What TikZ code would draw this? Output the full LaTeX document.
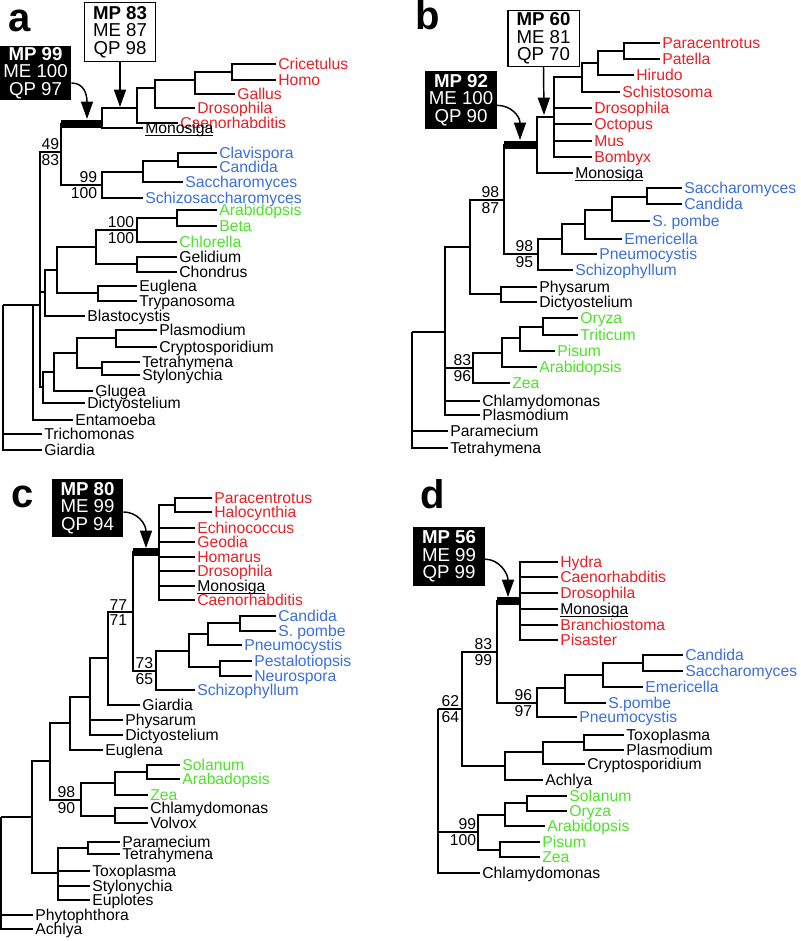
\documentclass[tikz,border=0pt]{standalone}
\usepackage{fontspec}
\setmainfont{Liberation Sans}
\usetikzlibrary{arrows.meta}
\definecolor{tred}{RGB}{232,32,38}
\definecolor{tblue}{RGB}{60,110,220}
\definecolor{tgreen}{RGB}{78,226,42}
\newcommand{\leaffont}{\fontsize{11.8}{12}\selectfont}
\newcommand{\boxfont}{\fontsize{14}{13.2}\selectfont}
\newcommand{\ulname}[1]{\setbox0\hbox{#1}\rlap{\rule[-1.6pt]{\wd0}{0.75pt}}\box0}
\tikzset{
  br/.style    = {line width=1.1pt},
  bar/.style   = {line width=5.6pt},
  leaf/.style  = {anchor=west, inner xsep=1.5pt, inner ysep=0pt,
                  text height=8.5pt, text depth=0pt, font=\leaffont},
  num/.style   = {inner sep=0.5pt, font=\leaffont},
  wbox/.style  = {rectangle, draw=black, line width=1pt, fill=white,
                  align=center, inner sep=1pt, font=\boxfont,
                  minimum width=53.5pt, minimum height=44pt},
  bbox/.style  = {rectangle, fill=black, text=white, align=center,
                  inner sep=1pt, font=\boxfont,
                  minimum width=53.5pt, minimum height=44pt},
  arr/.style   = {-{Triangle[length=13pt,width=9pt]}, line width=1.1pt},
  plabel/.style= {anchor=base west, inner sep=0pt,
                  font=\fontsize{30}{30}\selectfont\bfseries},
}

\begin{document}
\begin{tikzpicture}[x=0.75pt, y=-0.75pt]
\useasboundingbox (0,0) rectangle (800,941);

%% panel letters
\node[plabel] (la) at (8,32)   {a};
\node[plabel] (lb) at (415,30) {b};
\node[plabel] (lc) at (11,507) {c};
\node[plabel] (ld) at (420,508) {d};

%% Panel a
\foreach \nm/\x/\y in {aR/3/305, a33/33/305, a40/40/305, a61/61/152,
    a102/102/124, a137/137/108, a155/155/88, a195/195/80, a232/232/72,
    a102b/102/185, a143/143/172, a178/178/161, a45/45/292, a57/57/270,
    a96/96/247, a137g/137/230, a177/177/218, a137r/137/264, a98/98/293,
    a43/43/387, a54/54/372, a77/77/353, a116/116/338, a102t/102/368}
  \coordinate (\nm) at (\x,\y);
\foreach \pa/\ch in {aR/a33, a33/a40, a40/a61, a40/a45, a40/a43,
    a61/a102, a61/a102b, a102/a137, a137/a155, a155/a195, a195/a232,
    a102b/a143, a143/a178, a45/a57, a57/a96, a57/a98, a96/a137g,
    a96/a137r, a137g/a177, a43/a54, a54/a77, a77/a116, a77/a102t}
  \draw[br] (\pa) |- (\ch);
\foreach \pa/\nm/\x/\y/\col/\txt in {
    a232/aCri/276/64/tred/Cricetulus, a232/aHom/276/80/tred/Homo,
    a195/aGal/235/94/tred/Gallus, a155/aDro/195/108/tred/Drosophila,
    a137/aCae/178/123/tred/Caenorhabditis,
    a102/aMon/143/128/black/\ulname{Monosiga},
    a178/aCla/217/153/tblue/Clavispora, a178/aCan/217/167/tblue/Candida,
    a143/aSac/183/182/tblue/Saccharomyces,
    a102b/aSch/143/198/tblue/Schizosaccharomyces,
    a177/aAra/217/210/tgreen/Arabidopsis, a177/aBet/217/226/tgreen/Beta,
    a137g/aChl/177/242/tgreen/Chlorella,
    a137r/aGel/177/257/black/Gelidium, a137r/aCho/177/272/black/Chondrus,
    a98/aEug/137/286/black/Euglena, a98/aTry/137/301/black/Trypanosoma,
    a45/aBla/85/316/black/Blastocystis,
    a116/aPla/157/330/black/Plasmodium,
    a116/aCry/157/347/black/Cryptosporidium,
    a102t/aTet/140/362/black/Tetrahymena,
    a102t/aSty/140/375/black/Stylonychia,
    a54/aGlu/93/391/black/Glugea, a43/aDic/85/403/black/Dictyostelium,
    a33/aEnt/73/420/black/Entamoeba,
    aR/aTri/42/434/black/Trichomonas, aR/aGia/42/450/black/Giardia}
  {\node[leaf, text=\col] (\nm) at (\x,\y) {\txt};
   \draw[br] (\pa) |- (\nm.west);}
\draw[bar] (a61 |- a102) -- (a102);

\node[wbox] (mpa83) at (120,32) {\textbf{MP 83}\\ME 87\\QP 98};
\node[bbox, minimum height=39pt] (mpa99) at (35.5,73) {\textbf{MP 99}\\ME 100\\QP 97};
\coordinate (aTipW) at (120,107);
\coordinate (aTipB) at (87,119);
\draw[arr] (mpa83.south) -- (aTipW);
\draw[arr] ([yshift=-7.5pt]mpa99.east) .. controls +(13,0) and +(0,-24) .. (aTipB);

%% Panel b
\foreach \nm/\x/\y in {bR/412/332, b445/445/332, b470/470/247,
    b501/501/294, b504/504/200, b537/537/145, b554/554/117, b582/582/77,
    b598/598/63, b624/624/51, b538/538/254, b562/562/239, b585/585/224,
    b612/612/210, b647/647/197, b473/473/368, b502/502/353,
    b520/520/338, b543/543/327}
  \coordinate (\nm) at (\x,\y);
\foreach \pa/\ch in {bR/b445, b445/b470, b445/b473, b470/b504,
    b470/b501, b504/b537, b504/b538, b537/b554, b554/b582, b582/b598,
    b598/b624, b538/b562, b562/b585, b585/b612, b612/b647, b473/b502,
    b502/b520, b520/b543}
  \draw[br] (\pa) |- (\ch);
\foreach \pa/\nm/\x/\y/\col/\txt in {
    b624/bPar/660/43/tred/Paracentrotus, b624/bPat/660/59/tred/Patella,
    b598/bHir/634/75/tred/Hirudo, b582/bSch/620/92/tred/Schistosoma,
    b554/bDro/592/108/tred/Drosophila, b554/bOct/592/124/tred/Octopus,
    b554/bMus/592/141/tred/Mus, b554/bBom/592/157/tred/Bombyx,
    b537/bMon/573/173/black/\ulname{Monosiga},
    b647/bSac/682/188/tblue/Saccharomyces, b647/bCan/682/204/tblue/Candida,
    b612/bSpo/650/221/tblue/S. pombe, b585/bEme/622/239/tblue/Emericella,
    b562/bPne/597/254/tblue/Pneumocystis,
    b538/bScf/573/270/tblue/Schizophyllum,
    b501/bPhy/537/287/black/Physarum, b501/bDic/537/302/black/Dictyostelium,
    b543/bOry/578/318/tgreen/Oryza, b543/bTri/578/335/tgreen/Triticum,
    b520/bPis/555/351/tgreen/Pisum, b502/bAra/537/367/tgreen/Arabidopsis,
    b473/bZea/510/383/tgreen/Zea,
    b445/bChl/480/401/black/Chlamydomonas,
    b445/bPla/480/415/black/Plasmodium,
    bR/bPam/448/431/black/Paramecium, bR/bTet/448/448/black/Tetrahymena}
  {\node[leaf, text=\col] (\nm) at (\x,\y) {\txt};
   \draw[br] (\pa) |- (\nm.west);}
\draw[bar] (b504 |- b537) -- (b537);

\node[wbox, minimum height=42pt] (mpb60) at (543.5,38.5) {\textbf{MP 60}\\ME 81\\QP 70};
\node[bbox] (mpb92) at (461,100) {\textbf{MP 92}\\ME 100\\QP 90};
\coordinate (bTipW) at (544,115);
\coordinate (bTipB) at (520,140);
\draw[arr] (mpb60.south) -- (bTipW);
\draw[arr] ([yshift=-4pt]mpb92.east) .. controls +(14,0) and +(0,-24) .. (bTipB);

%% Panel c
\foreach \nm/\x/\y in {cR/1/817, c32/32/817, c50/50/761, c70/70/723,
    c90/90/697, c108/108/658, c133/133/612, c159/159/552, c175/175/505,
    c156/156/671, c189/189/651, c208/208/634, c240/240/623,
    c220/220/667, c81/81/800, c115/115/783, c147/147/772,
    c115b/115/816, c58/58/873, c88/88/848}
  \coordinate (\nm) at (\x,\y);
\foreach \pa/\ch in {cR/c32, c32/c50, c32/c58, c50/c70, c50/c81,
    c70/c90, c90/c108, c108/c133, c133/c159, c133/c156, c159/c175,
    c156/c189, c189/c208, c189/c220, c208/c240, c81/c115, c81/c115b,
    c115/c147, c58/c88}
  \draw[br] (\pa) |- (\ch);
\foreach \pa/\nm/\x/\y/\col/\txt in {
    c175/cPar/212/498/tred/Paracentrotus, c175/cHal/212/512/tred/Halocynthia,
    c159/cEch/195/528/tred/Echinococcus, c159/cGeo/195/542/tred/Geodia,
    c159/cHom/195/557/tred/Homarus, c159/cDro/195/571/tred/Drosophila,
    c159/cMon/195/586/black/\ulname{Monosiga},
    c159/cCae/195/600/tred/Caenorhabditis,
    c240/cCan/276/616/tblue/Candida, c240/cSpo/276/631/tblue/S. pombe,
    c208/cPne/242/645/tblue/Pneumocystis,
    c220/cPes/252/661/tblue/Pestalotiopsis,
    c220/cNeu/252/676/tblue/Neurospora,
    c156/cScf/195/690/tblue/Schizophyllum,
    c108/cGia/140/705/black/Giardia,
    c90/cPhy/123/720/black/Physarum, c90/cDic/123/735/black/Dictyostelium,
    c70/cEug/103/750/black/Euglena,
    c147/cSol/180/765/tgreen/Solanum, c147/cAra/180/779/tgreen/Arabadopsis,
    c115/cZea/148/795/tgreen/Zea,
    c115b/cChl/148/808/black/Chlamydomonas, c115b/cVol/148/823/black/Volvox,
    c88/cPam/120/842/black/Paramecium, c88/cTet/120/854/black/Tetrahymena,
    c58/cTox/90/871/black/Toxoplasma, c58/cSty/90/886/black/Stylonychia,
    c58/cEup/90/900/black/Euplotes,
    cR/cPht/33/915/black/Phytophthora, cR/cAch/33/929/black/Achlya}
  {\node[leaf, text=\col] (\nm) at (\x,\y) {\txt};
   \draw[br] (\pa) |- (\nm.west);}
\draw[bar] (c133 |- c159) -- (c159);

\node[bbox] (mpc80) at (87.5,508) {\textbf{MP 80}\\ME 99\\QP 94};
\coordinate (cTipB) at (146,548);
\draw[arr] ([yshift=-3pt]mpc80.east) .. controls +(14,0) and +(0,-24) .. (cTipB);

%% Panel d
\foreach \nm/\x/\y in {dR/438/709, d462/462/709, d497/497/652,
    d520/520/601, d537/537/703, d565/565/688, d603/603/675,
    d643/643/663, d505/505/766, d543/543/752, d584/584/742,
    d478/478/832, d505b/505/815, d527/527/803, d500/500/850}
  \coordinate (\nm) at (\x,\y);
\foreach \pa/\ch in {dR/d462, dR/d478, d462/d497, d462/d505,
    d497/d520, d497/d537, d537/d565, d565/d603, d603/d643, d505/d543,
    d543/d584, d478/d505b, d478/d500, d505b/d527}
  \draw[br] (\pa) |- (\ch);
\foreach \pa/\nm/\x/\y/\col/\txt in {
    d520/dHyd/558/562/tred/Hydra, d520/dCae/558/577/tred/Caenorhabditis,
    d520/dDro/558/593/tred/Drosophila,
    d520/dMon/558/609/black/\ulname{Monosiga},
    d520/dBra/558/625/tred/Branchiostoma, d520/dPis/558/640/tred/Pisaster,
    d643/dCan/683/655/tblue/Candida, d643/dSac/683/671/tblue/Saccharomyces,
    d603/dEme/643/687/tblue/Emericella, d565/dSpo/606/703/tblue/S.pombe,
    d537/dPne/577/717/tblue/Pneumocystis,
    d584/dTox/624/735/black/Toxoplasma, d584/dPla/624/750/black/Plasmodium,
    d543/dCry/585/764/black/Cryptosporidium,
    d505/dAch/543/780/black/Achlya,
    d527/dSol/567/796/tgreen/Solanum, d527/dOry/567/811/tgreen/Oryza,
    d505b/dAra/545/826/tgreen/Arabidopsis,
    d500/dPim/540/842/tgreen/Pisum, d500/dZea/540/857/tgreen/Zea,
    dR/dChl/480/873/black/Chlamydomonas}
  {\node[leaf, text=\col] (\nm) at (\x,\y) {\txt};
   \draw[br] (\pa) |- (\nm.west);}
\draw[bar] (d497 |- d520) -- (d520);

\node[bbox] (mpd56) at (449,556.5) {\textbf{MP 56}\\ME 99\\QP 99};
\coordinate (dTipB) at (508,597);
\draw[arr] ([yshift=-2pt]mpd56.east) .. controls +(14,0) and +(0,-24) .. (dTipB);

%% support values
\foreach \nm/\x/\y/\up/\lo in {sa1/60/152/49/83, sa2/98/185/99/100,
    sa3/135/230/100/100, sb1/500/200/98/87, sb2/534/254/98/95,
    sb3/472/368/83/96, sc1/128/612/77/71, sc2/154/671/73/65,
    sc3/76/800/98/90, sd1/493/652/83/99, sd2/533/703/96/97,
    sd3/460/709/62/64, sd4/477/832/99/100}
  {\node[num, anchor=south east] (\nm-up) at (\x,\y-1) {\up};
   \node[num, anchor=north east] (\nm-lo) at (\x,\y+1.5) {\lo};}

\end{tikzpicture}
\end{document}
